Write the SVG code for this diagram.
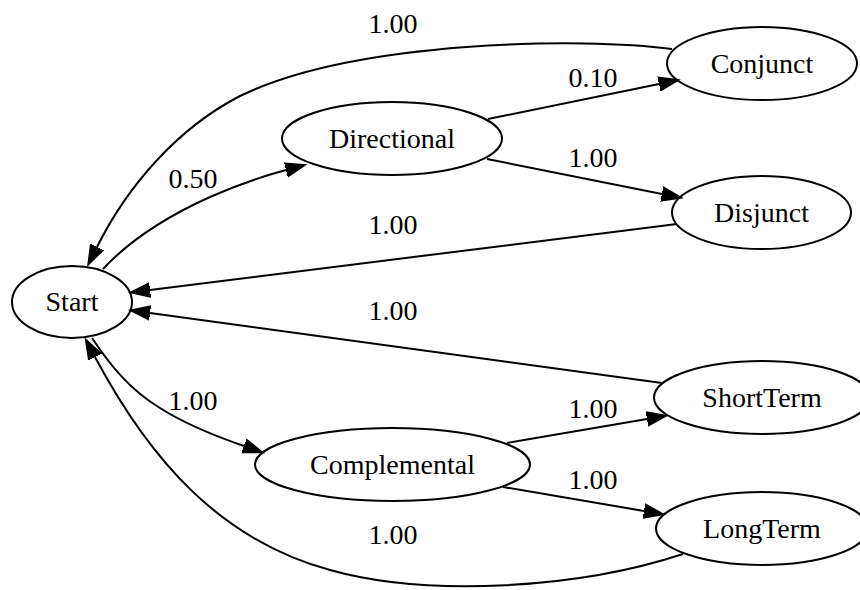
<svg xmlns="http://www.w3.org/2000/svg" width="860" height="590" viewBox="0 0 860 590">
<style>
.n ellipse{fill:none;stroke:#000;stroke-width:2}
text{font-family:"Liberation Serif","Times New Roman",serif;font-size:28px;fill:#000;text-anchor:middle}
.e path{fill:none;stroke:#000;stroke-width:2;marker-end:url(#ah)}
</style>
<defs>
<marker id="ah" markerUnits="userSpaceOnUse" markerWidth="24" markerHeight="18" viewBox="0 -9 24 18" refX="0" refY="0" orient="auto">
<path d="M0,-7 L20,0 L0,7 Z" fill="#000" stroke="#000" stroke-width="1.5"/>
</marker>
</defs>
<rect width="860" height="590" fill="#fff"/>
<g id="edges" class="e">
<path d="M672,49 C585,37 355,40 240,96 C178,128 128,185 97,247"/>
<path d="M103,269 C130,240 170,215 210,197 C235,186 260,177 286,170"/>
<path d="M488,119 L659,84"/>
<path d="M487,159 L662,194"/>
<path d="M677,224 L150,290"/>
<path d="M662,383 L150,313"/>
<path d="M92,338 C110,365 130,390 160,408 C185,424 215,436 244,446"/>
<path d="M507,443 L647,419"/>
<path d="M503,487 L644,511"/>
<path d="M683,554 C580,588 430,598 330,570 C220,540 150,460 95,357"/>
</g>
<g id="labels">
<text x="393" y="33">1.00</text>
<text x="593" y="87">0.10</text>
<text x="193" y="188">0.50</text>
<text x="593" y="167">1.00</text>
<text x="393" y="234">1.00</text>
<text x="393" y="320">1.00</text>
<text x="193" y="410">1.00</text>
<text x="593" y="418">1.00</text>
<text x="593" y="489">1.00</text>
<text x="393" y="544">1.00</text>
</g>
<g id="Start" class="n"><ellipse cx="72" cy="302" rx="60" ry="36"/><text x="72" y="311">Start</text></g>
<g id="Directional" class="n"><ellipse cx="392" cy="138.5" rx="110" ry="36.5"/><text x="392" y="148">Directional</text></g>
<g id="Conjunct" class="n"><ellipse cx="762" cy="63.5" rx="95" ry="36.5"/><text x="762" y="73">Conjunct</text></g>
<g id="Disjunct" class="n"><ellipse cx="761.5" cy="212.5" rx="89.5" ry="36.5"/><text x="761.5" y="222">Disjunct</text></g>
<g id="Complemental" class="n"><ellipse cx="392.5" cy="464.5" rx="137.5" ry="36.5"/><text x="392.5" y="474">Complemental</text></g>
<g id="ShortTerm" class="n"><ellipse cx="762" cy="397.5" rx="108" ry="36.5"/><text x="762" y="407">ShortTerm</text></g>
<g id="LongTerm" class="n"><ellipse cx="762" cy="528.5" rx="106" ry="36.5"/><text x="762" y="538">LongTerm</text></g>
</svg>
